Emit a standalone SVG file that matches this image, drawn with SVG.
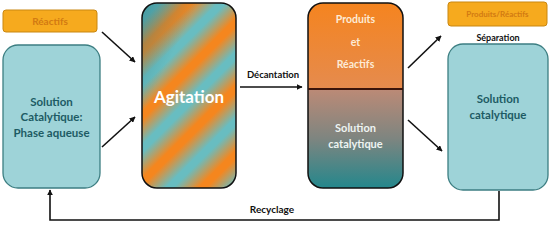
<svg xmlns="http://www.w3.org/2000/svg" width="550" height="226" viewBox="0 0 550 226">
<defs>
<style>
.t{font-family:Lato,"Open Sans","Liberation Sans",sans-serif;font-weight:bold;text-anchor:middle}
.teal{fill:#9ED3D8;stroke:#3C7E82;stroke-width:1.3}
.orb{fill:#F6AA1E;stroke:#C98710;stroke-width:1}
.ln{fill:none;stroke:#111;stroke-width:1.6}
</style>
<marker id="ah" viewBox="0 0 10 10" refX="9" refY="5" markerWidth="6" markerHeight="6" orient="auto" markerUnits="userSpaceOnUse">
<path d="M0,0 L10,5 L0,10 z" fill="#111"/>
</marker>
<linearGradient id="stripes" gradientUnits="userSpaceOnUse" x1="150" y1="5" x2="183" y2="38" spreadMethod="repeat">
<stop offset="0" stop-color="#68BDC1"/>
<stop offset="0.12" stop-color="#68BDC1"/>
<stop offset="0.5" stop-color="#F5861E"/>
<stop offset="0.62" stop-color="#F5861E"/>
<stop offset="1" stop-color="#68BDC1"/>
</linearGradient>
<linearGradient id="shade" x1="0" y1="0" x2="1" y2="1">
<stop offset="0" stop-color="#2E7F88" stop-opacity="0.6"/>
<stop offset="0.3" stop-color="#2E7F88" stop-opacity="0"/>
</linearGradient>
<linearGradient id="topG" x1="0" y1="0" x2="0" y2="1">
<stop offset="0" stop-color="#F5841F"/>
<stop offset="1" stop-color="#E58B4E"/>
</linearGradient>
<linearGradient id="botG" x1="0" y1="0" x2="0" y2="1">
<stop offset="0" stop-color="#BC8A76"/>
<stop offset="0.5" stop-color="#7E8580"/>
<stop offset="1" stop-color="#24878C"/>
</linearGradient>
<clipPath id="midClip"><rect x="308" y="3" width="95" height="185" rx="15"/></clipPath>
</defs>

<g id="reactifs">
<rect class="orb" x="3" y="10" width="94" height="22" rx="3"/>
<text class="t" x="50" y="25" font-size="10" fill="#D27A12">Réactifs</text>
</g>

<g id="solution-aqueuse">
<rect class="teal" x="3" y="45" width="97" height="143" rx="15"/>
<text class="t" x="51.5" y="106" font-size="11.5" fill="#1D5B64">Solution</text>
<text class="t" x="51.5" y="121" font-size="11.5" fill="#1D5B64">Catalytique:</text>
<text class="t" x="51.5" y="137" font-size="11.5" fill="#1D5B64">Phase aqueuse</text>
</g>

<g id="agitation">
<rect x="142" y="3" width="94" height="185" rx="15" fill="url(#stripes)"/>
<rect x="142" y="3" width="94" height="185" rx="15" fill="url(#shade)" stroke="#111" stroke-width="1.5"/>
<text class="t" x="189" y="103" font-size="17" fill="#FFFFFF">Agitation</text>
</g>

<g id="decantation-box">
<g clip-path="url(#midClip)">
<rect x="308" y="3" width="95" height="86" fill="url(#topG)"/>
<rect x="308" y="89" width="95" height="99" fill="url(#botG)"/>
</g>
<rect x="308" y="3" width="95" height="185" rx="15" fill="none" stroke="#111" stroke-width="1.5"/>
<line x1="308" y1="89" x2="403" y2="89" stroke="#3A140A" stroke-width="2"/>
<text class="t" x="355.5" y="23" font-size="10.5" fill="#FDEBD6">Produits</text>
<text class="t" x="355.5" y="46" font-size="10.5" fill="#FDEBD6">et</text>
<text class="t" x="355.5" y="68" font-size="10.5" fill="#FDEBD6">Réactifs</text>
<text class="t" x="355.5" y="132" font-size="11" fill="#EEF4F2">Solution</text>
<text class="t" x="355.5" y="148" font-size="11" fill="#EEF4F2">catalytique</text>
</g>

<g id="produits-reactifs">
<rect class="orb" x="448" y="2" width="99" height="24" rx="3"/>
<text class="t" x="497.5" y="17" font-size="8" fill="#D27A12">Produits/Réactifs</text>
</g>

<g id="solution-catalytique">
<rect class="teal" x="448" y="44" width="100" height="146" rx="15"/>
<text class="t" x="498" y="103" font-size="11.5" fill="#1D5B64">Solution</text>
<text class="t" x="498" y="119" font-size="11.5" fill="#1D5B64">catalytique</text>
</g>

<g id="connectors">
<line class="ln" x1="102" y1="32" x2="135" y2="62" marker-end="url(#ah)"/>
<line class="ln" x1="102" y1="147" x2="135" y2="117" marker-end="url(#ah)"/>
<line class="ln" x1="240" y1="87" x2="302" y2="87" marker-end="url(#ah)"/>
<text class="t" x="273" y="78" font-size="9.5" fill="#111">Décantation</text>
<line class="ln" x1="408" y1="68" x2="441" y2="36" marker-end="url(#ah)"/>
<line class="ln" x1="408" y1="120" x2="442" y2="151" marker-end="url(#ah)"/>
<text class="t" x="498" y="41" font-size="9" fill="#111">Séparation</text>
<polyline class="ln" points="499,191 499,220 50,220 50,190" marker-end="url(#ah)"/>
<text class="t" x="272" y="213" font-size="10" fill="#111">Recyclage</text>
</g>
</svg>
